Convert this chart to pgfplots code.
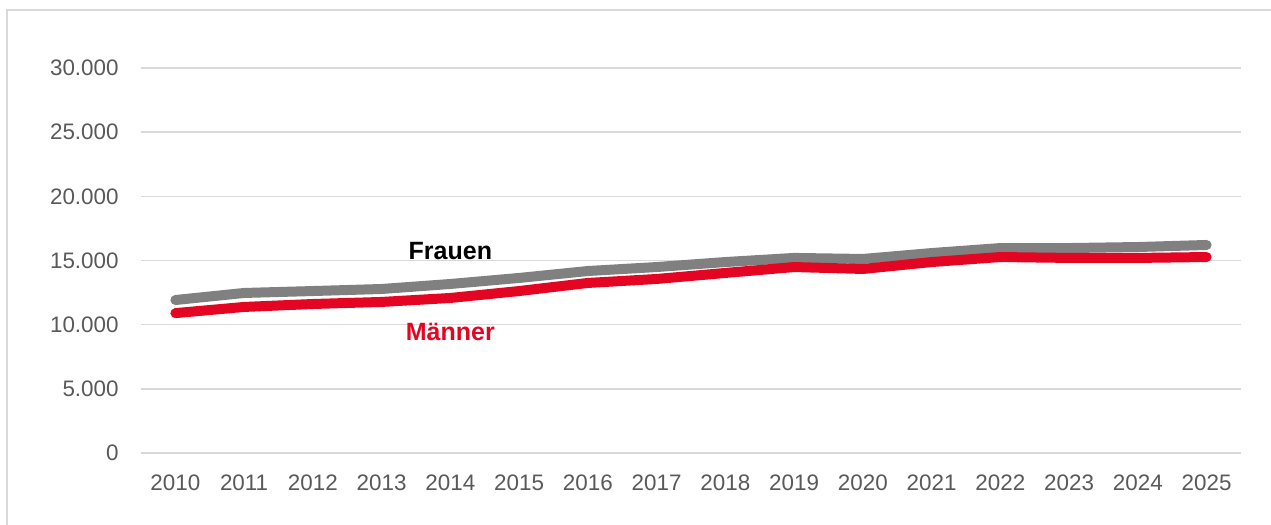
\documentclass[border=0pt]{standalone}
\usepackage{fontspec}
\setmainfont{Liberation Sans}
\usepackage{pgfplots}
\pgfplotsset{compat=1.18}
\definecolor{gridc}{HTML}{D9D9D9}
\definecolor{framec}{HTML}{D9D9D9}
\definecolor{tickc}{HTML}{595959}
\definecolor{grayline}{HTML}{808080}
\definecolor{redline}{HTML}{E30521}
\begin{document}
\begin{tikzpicture}
\useasboundingbox (0,0) rectangle (635.5pt,262.5pt);
\draw[framec, line width=1pt] (3.5pt,0pt) -- (3.5pt,257.5pt) -- (635.5pt,257.5pt);
\begin{axis}[
  at={(70.5pt,36pt)}, anchor=south west,
  scale only axis, width=550pt, height=192.5pt,
  xmin=2009.5, xmax=2025.5, ymin=0, ymax=30000,
  axis line style={draw=none},
  major tick length=0pt,
  ymajorgrids, grid style={gridc, line width=0.8pt},
  xtick={2010,2011,...,2025},
  ytick={0,5000,...,30000},
  scaled y ticks=false,
  /pgf/number format/assume math mode=true,
  x tick label style={/pgf/number format/1000 sep={}},
  y tick label style={/pgf/number format/1000 sep={.}},
  tick label style={font=\fontsize{11.2}{13}\selectfont, text=tickc, inner sep=0pt},
  yticklabel shift=11pt,
  xticklabel shift=10.5pt,
  clip=false,
]
\addplot[grayline, line width=5pt, line cap=round, line join=round] coordinates {
(2010,11920) (2011,12470) (2012,12620) (2013,12780) (2014,13170) (2015,13640)
(2016,14180) (2017,14490) (2018,14880) (2019,15200) (2020,15120) (2021,15580)
(2022,15970) (2023,15970) (2024,16050) (2025,16210)};
\addplot[redline, line width=5pt, line cap=round, line join=round] coordinates {
(2010,10900) (2011,11380) (2012,11610) (2013,11770) (2014,12080) (2015,12620)
(2016,13250) (2017,13560) (2018,14030) (2019,14490) (2020,14340) (2021,14880)
(2022,15270) (2023,15200) (2024,15200) (2025,15270)};
\node[font=\fontsize{12.5}{14}\selectfont\bfseries, text=black] at (axis cs:2014,15740) {Frauen};
\node[font=\fontsize{12.5}{14}\selectfont\bfseries, text=redline] at (axis cs:2014,9430) {Männer};
\end{axis}
\end{tikzpicture}
\end{document}
